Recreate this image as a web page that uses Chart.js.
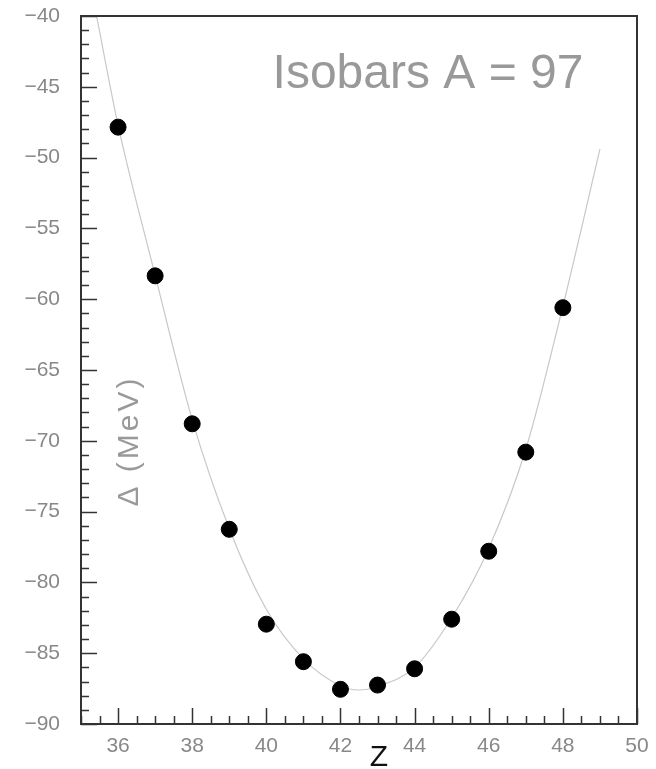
<!DOCTYPE html>
<html>
<head>
<meta charset="utf-8">
<script src="https://cdn.jsdelivr.net/npm/chart.js@4/dist/chart.umd.min.js"></script>
<style>
  body { margin: 0; background: #fff; }
  canvas { display: block; }
</style>
</head>
<body>
<canvas id="chart" width="656" height="769"></canvas>
<script>
// measured isobars A = 97
const zValues = [36, 37, 38, 39, 40, 41, 42, 43, 44, 45, 46, 47, 48];
const massExcess = [-47.85, -58.35, -68.8, -76.25, -82.95, -85.6, -87.55, -87.25, -86.1, -82.6, -77.8, -70.8, -60.6];

// fitted curve
const fitZ = [35.42, 36, 37, 38, 39, 40, 41, 42, 42.5, 43, 44, 45, 46, 47, 48, 49];
const fitDelta = [-40.0, -47.7, -58.3, -68.5, -76.2, -81.9, -85.4, -87.3, -87.6, -87.35, -86.0, -82.5, -77.6, -70.6, -60.5, -49.4];

const xTicks = [36, 38, 40, 42, 44, 46, 48, 50];
const yTicks = [-90, -85, -80, -75, -70, -65, -60, -55, -50, -45, -40];

const labelFont = 'Liberation Sans, Arial, sans-serif';

// ROOT-like frame with ticks drawn inside, plus the texts
const rootFrame = {
  id: 'rootFrame',
  afterDraw(chart) {
    const ctx = chart.ctx;
    const a = chart.chartArea;
    const xs = chart.scales.x, ys = chart.scales.y;
    ctx.save();
    ctx.strokeStyle = '#333';
    ctx.lineWidth = 1.5;
    ctx.beginPath();
    for (let v = -90; v <= -40; v += 1) {
      const y = Math.round(ys.getPixelForValue(v)) + 0.5;
      const len = v % 5 === 0 ? 16 : 8;
      ctx.moveTo(a.left, y);
      ctx.lineTo(a.left + len, y);
    }
    for (let v = 35; v <= 50; v += 0.5) {
      const x = Math.round(xs.getPixelForValue(v)) + 0.5;
      const len = v % 2 === 0 ? 16 : 8;
      ctx.moveTo(x, a.bottom);
      ctx.lineTo(x, a.bottom - len);
    }
    ctx.stroke();
    ctx.lineWidth = 2;
    ctx.strokeRect(a.left, a.top, a.right - a.left, a.bottom - a.top);

    // title
    ctx.fillStyle = '#999';
    ctx.font = '48px ' + labelFont;
    ctx.textAlign = 'center';
    ctx.textBaseline = 'alphabetic';
    ctx.fillText('Isobars A = 97', 428, 88);

    // y title inside the frame
    ctx.save();
    ctx.translate(138, 441);
    ctx.rotate(-Math.PI / 2);
    ctx.font = '30px ' + labelFont;
    ctx.letterSpacing = '3px';
    ctx.fillText('\u0394 (MeV)', 0, 0);
    ctx.restore();

    // x title
    ctx.fillStyle = '#111';
    ctx.font = '30px ' + labelFont;
    ctx.fillText('Z', 379, 766);
    ctx.restore();
  }
};

const noPad = (s) => { s.paddingTop = 0; s.paddingBottom = 0; s.paddingLeft = 0; s.paddingRight = 0; };

new Chart(document.getElementById('chart'), {
  type: 'scatter',
  data: {
    datasets: [
      {
        label: 'fit',
        data: fitZ.map((z, i) => ({ x: z, y: fitDelta[i] })),
        showLine: true,
        borderColor: '#c8c8c8',
        borderWidth: 1.2,
        pointRadius: 0,
        cubicInterpolationMode: 'monotone',
        order: 2
      },
      {
        label: 'data',
        data: zValues.map((z, i) => ({ x: z, y: massExcess[i] })),
        backgroundColor: '#000',
        borderColor: '#000',
        pointRadius: 8,
        order: 1
      }
    ]
  },
  options: {
    responsive: false,
    animation: false,
    layout: { padding: { top: 16, right: 19, left: 0, bottom: 0 } },
    plugins: { legend: { display: false }, tooltip: { enabled: false } },
    scales: {
      x: {
        type: 'linear',
        min: 35,
        max: 50,
        afterBuildTicks: (s) => { s.ticks = xTicks.map(v => ({ value: v })); },
        afterFit: (s) => { s.height = 45; noPad(s); },
        grid: { display: false, drawTicks: false },
        border: { display: false },
        ticks: { color: '#888', font: { family: labelFont, size: 21 }, padding: 10, maxRotation: 0 }
      },
      y: {
        min: -90,
        max: -40,
        afterBuildTicks: (s) => { s.ticks = yTicks.map(v => ({ value: v })); },
        afterFit: (s) => { s.width = 81; noPad(s); },
        grid: { display: false, drawTicks: false },
        border: { display: false },
        ticks: {
          color: '#888',
          font: { family: labelFont, size: 21 },
          padding: 21,
          callback: (v) => '\u2212' + Math.abs(v)
        }
      }
    }
  },
  plugins: [rootFrame]
});
</script>
</body>
</html>
